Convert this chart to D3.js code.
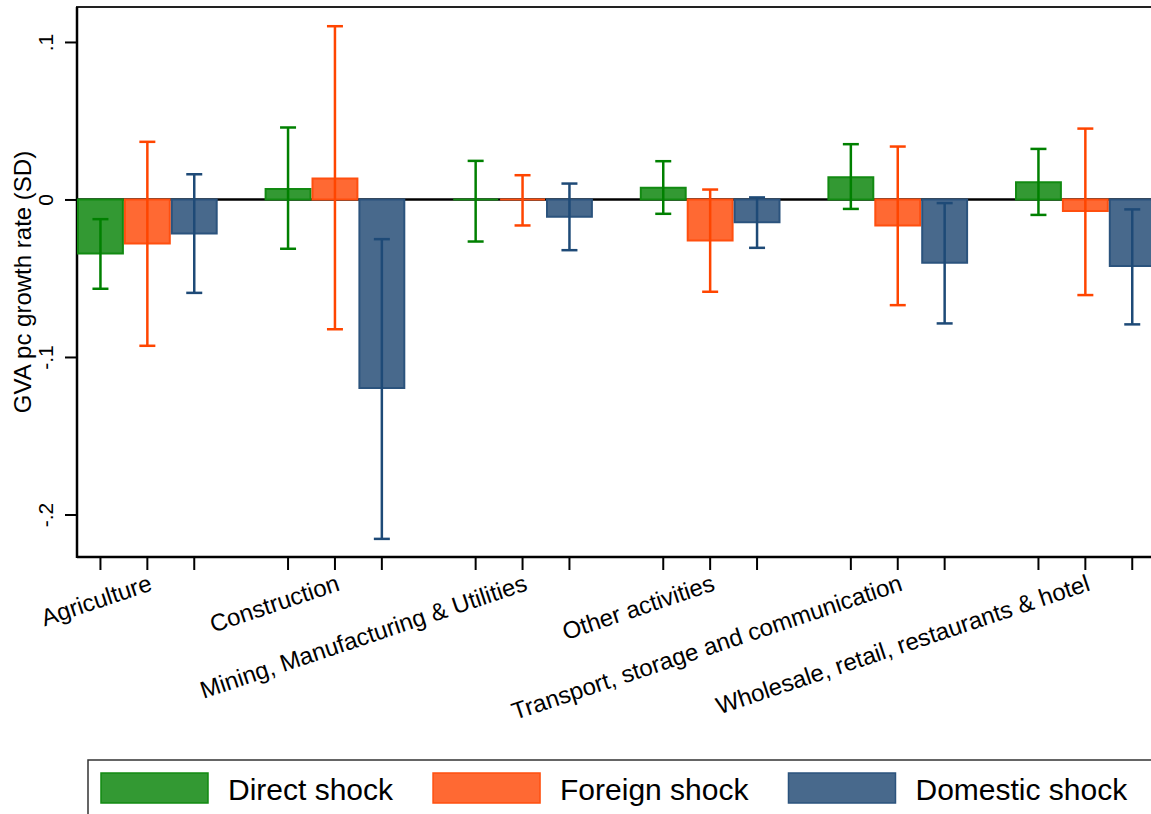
<!DOCTYPE html>
<html>
<head>
<meta charset="utf-8">
<script src="https://cdn.jsdelivr.net/npm/d3@7"></script>
<style>
	body { margin: 0; background: #fff; }
	svg { display: block; font-family: "Liberation Sans", Arial, sans-serif; }
</style>
</head>
<body>
<svg id="chart"></svg>
<script>

// Data
var categories = ["Agriculture", "Construction", "Mining, Manufacturing & Utilities",
	"Other activities", "Transport, storage and communication", "Wholesale, retail, restaurants & hotel"];

var seriesNames = ["Direct shock", "Foreign shock", "Domestic shock"];

var directShock   = [-0.0343,  0.0067,  0.0000,  0.0074,  0.0141,  0.0110];
var directLow     = [-0.0567, -0.0313, -0.0267, -0.0091, -0.0060, -0.0098];
var directHigh    = [-0.0125,  0.0457,  0.0245,  0.0243,  0.0351,  0.0321];

var foreignShock  = [-0.0279,  0.0133,  0.0000, -0.0260, -0.0165, -0.0074];
var foreignLow    = [-0.0929, -0.0824, -0.0165, -0.0586, -0.0671, -0.0607];
var foreignHigh   = [ 0.0366,  0.1100,  0.0154,  0.0063,  0.0336,  0.0450];

var domesticShock = [-0.0216, -0.1197, -0.0110, -0.0144, -0.0402, -0.0423];
var domesticLow   = [-0.0593, -0.2155, -0.0322, -0.0307, -0.0787, -0.0793];
var domesticHigh  = [ 0.0160, -0.0252,  0.0101,  0.0013, -0.0023, -0.0063];

var yTicks = [0.1, 0, -0.1, -0.2];
var yTickLabels = [".1", "0", "-.1", "-.2"];

var yTitle = "GVA pc growth rate (SD)";


function Chart(){
	this.width = 1151,
	this.height = 814,

	this.draw();
}

Chart.prototype.draw = function(){

	var width = this.width,
		height = this.height;

	var svg = d3.select("#chart")
		.attr("width", width)
		.attr("height", height);

	svg.append("rect")
		.attr("width", width)
		.attr("height", height)
		.attr("fill", "#fff");

	var fills   = ["#339933", "#ff6933", "#48698c"],
		strokes = ["#128a12", "#ff4f0f", "#2b537d"],
		errCols = ["#008000", "#ff4500", "#1e4a77"];

	var values = [directShock, foreignShock, domesticShock],
		lows   = [directLow, foreignLow, domesticLow],
		highs  = [directHigh, foreignHigh, domesticHigh];

	// one row per bar
	var rows = [];
	categories.forEach(function(c, i){
		seriesNames.forEach(function(s, j){
			rows.push({cat: c, ser: s, j: j, v: values[j][i], lo: lows[j][i], hi: highs[j][i]});
		});
	});

	// Scales
	var left = 77, top = 7, bottom = 557;

	var x = d3.scaleBand()
		.domain(categories)
		.range([left, left + 6 * 187.6]);

	var xs = d3.scaleBand()
		.domain(seriesNames)
		.range([0, x.bandwidth() * 0.75]);

	var y = d3.scaleLinear()
		.domain([-0.227, 0.1222])
		.range([bottom, top]);

	// Frame
	svg.append("rect")
		.attr("x", left)
		.attr("y", top)
		.attr("width", 1300)
		.attr("height", bottom - top)
		.attr("fill", "none")
		.attr("stroke", "#222")
		.attr("stroke-width", 2);

	// Y axis
	var yAxis = svg.append("g")
		.attr("transform", "translate(" + left + ",0)")
		.call(d3.axisLeft(y)
			.tickValues(yTicks)
			.tickFormat(function(d, i){ return yTickLabels[i]; })
			.tickSize(12)
			.tickSizeOuter(0));

	yAxis.select(".domain").remove();
	yAxis.selectAll(".tick line")
		.attr("stroke", "#000")
		.attr("stroke-width", 2);
	yAxis.selectAll(".tick text")
		.attr("x", 0)
		.attr("dy", 0)
		.attr("transform", "translate(-24,0) rotate(-90)")
		.attr("text-anchor", "middle")
		.attr("font-size", 21)
		.attr("fill", "#000");

	svg.append("line")
		.attr("x1", left).attr("x2", left)
		.attr("y1", top).attr("y2", bottom + 1)
		.attr("stroke", "#000")
		.attr("stroke-width", 2.5);

	svg.append("text")
		.attr("transform", "translate(31," + ((top + bottom) / 2) + ") rotate(-90)")
		.attr("text-anchor", "middle")
		.attr("font-size", 24)
		.text(yTitle);

	// X axis ticks and labels
	svg.append("line")
		.attr("x1", left).attr("x2", width)
		.attr("y1", bottom).attr("y2", bottom)
		.attr("stroke", "#000")
		.attr("stroke-width", 2.5);

	svg.append("g")
		.selectAll("line")
		.data(rows)
		.enter()
			.append("line")
				.attr("x1", function(d){ return x(d.cat) + xs(d.ser) + xs.bandwidth() / 2; })
				.attr("x2", function(d){ return x(d.cat) + xs(d.ser) + xs.bandwidth() / 2; })
				.attr("y1", bottom)
				.attr("y2", bottom + 13)
				.attr("stroke", "#000")
				.attr("stroke-width", 2);

	svg.append("g")
		.selectAll("text")
		.data(categories)
		.enter()
			.append("text")
				.attr("transform", function(d){
					var cx = x(d) + xs(seriesNames[1]) + xs.bandwidth() / 2;
					return "translate(" + (cx + 6) + "," + (bottom + 33) + ") rotate(-18.5)";
				})
				.attr("text-anchor", "end")
				.attr("font-size", 24)
				.text(function(d){ return d; });

	// Zero line
	svg.append("line")
		.attr("x1", left).attr("x2", width)
		.attr("y1", y(0)).attr("y2", y(0))
		.attr("stroke", "#000")
		.attr("stroke-width", 2.5);

	// Bars
	svg.append("g")
		.selectAll("path")
		.data(rows)
		.enter()
			.append("path")
				.attr("d", function(d){
					var x0 = x(d.cat) + xs(d.ser) + 1,
						x1 = x(d.cat) + xs(d.ser) + xs.bandwidth() - 1;
					return "M" + x0 + "," + y(0) + "H" + x1 + "V" + y(d.v) + "H" + x0 + "Z";
				})
				.attr("fill", function(d){ return fills[d.j]; })
				.attr("stroke", function(d){ return strokes[d.j]; })
				.attr("stroke-width", 2);

	// Error bars
	var err = svg.append("g")
		.selectAll("g")
		.data(rows)
		.enter()
			.append("g")
				.attr("stroke", function(d){ return errCols[d.j]; })
				.attr("stroke-width", 2.5);

	var cx = function(d){ return x(d.cat) + xs(d.ser) + xs.bandwidth() / 2; };

	err.append("line")
		.attr("x1", cx).attr("x2", cx)
		.attr("y1", function(d){ return y(d.hi); })
		.attr("y2", function(d){ return y(d.lo); });

	err.append("line")
		.attr("x1", function(d){ return cx(d) - 8; })
		.attr("x2", function(d){ return cx(d) + 8; })
		.attr("y1", function(d){ return y(d.hi); })
		.attr("y2", function(d){ return y(d.hi); });

	err.append("line")
		.attr("x1", function(d){ return cx(d) - 8; })
		.attr("x2", function(d){ return cx(d) + 8; })
		.attr("y1", function(d){ return y(d.lo); })
		.attr("y2", function(d){ return y(d.lo); });

	// Legend
	var legend = svg.append("g");

	legend.append("rect")
		.attr("x", 88)
		.attr("y", 760)
		.attr("width", 1200)
		.attr("height", 100)
		.attr("fill", "#fff")
		.attr("stroke", "#333")
		.attr("stroke-width", 1.5);

	var lx = 101;
	seriesNames.forEach(function(s, j){
		legend.append("rect")
			.attr("x", lx)
			.attr("y", 773)
			.attr("width", 107)
			.attr("height", 30)
			.attr("fill", fills[j])
			.attr("stroke", strokes[j])
			.attr("stroke-width", 1.5);

		var t = legend.append("text")
			.attr("x", lx + 127)
			.attr("y", 800)
			.attr("font-size", 30)
			.text(s);

		lx = lx + 127 + t.node().getComputedTextLength() + 40;
	});

}

new Chart();

</script>
</body>
</html>
